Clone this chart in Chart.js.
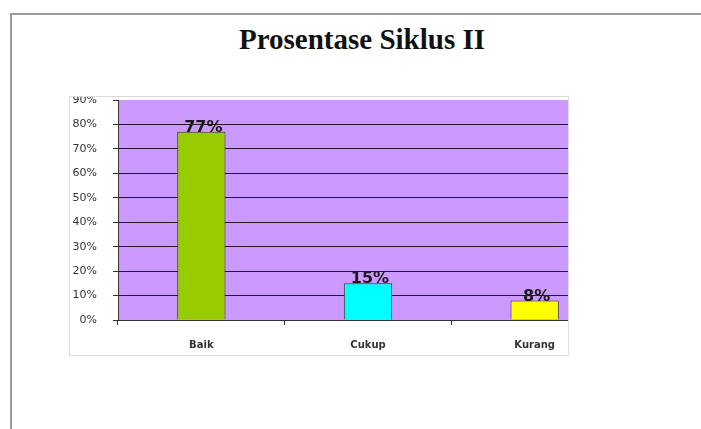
<!DOCTYPE html>
<html><head><meta charset="utf-8">
<script src="https://cdn.jsdelivr.net/npm/chart.js@4/dist/chart.umd.min.js"></script>
<style>
html,body{margin:0;padding:0;background:#fff;width:701px;height:429px;overflow:hidden;}
#frame{position:absolute;left:10px;top:13px;width:720px;height:440px;border-left:2px solid #9a9a9a;border-top:2px solid #9a9a9a;}
#title{position:absolute;left:0;width:724px;top:23px;text-align:center;font-family:"Liberation Serif",serif;font-weight:bold;font-size:29px;color:#111;}
#box{position:absolute;left:69px;top:96px;width:498px;height:258px;border:1px solid #dcdcdc;overflow:hidden;background:#fff;}
#c{position:absolute;left:0;top:0;}
</style></head>
<body>
<div id="frame"></div>
<div id="title">Prosentase Siklus II</div>
<div id="box"><canvas id="c" width="550" height="258"></canvas></div>
<script>
const categories = ["Baik", "Cukup", "Kurang"];
const values = [77, 15, 8];
const barColors = ["#99CC00", "#00FFFF", "#FFFF00"];
const yTicks = [0, 10, 20, 30, 40, 50, 60, 70, 80, 90];

const bgPlugin = {
  id: 'bg',
  beforeDraw(chart) {
    const a = chart.chartArea, ctx = chart.ctx;
    ctx.save(); ctx.fillStyle = '#CC99FF';
    ctx.fillRect(a.left, a.top, a.right - a.left, a.bottom - a.top);
    ctx.restore();
  }
};
const labelPlugin = {
  id: 'lbl',
  afterDatasetsDraw(chart) {
    const ctx = chart.ctx, meta = chart.getDatasetMeta(0);
    ctx.save();
    ctx.font = 'bold 16px "DejaVu Sans", sans-serif';
    ctx.fillStyle = '#1a1a1a';
    ctx.textAlign = 'center'; ctx.textBaseline = 'middle';
    meta.data.forEach((el, i) => {
      ctx.fillText(values[i] + '%', el.x + 2, el.y - 4);
    });
    ctx.restore();
  }
};

new Chart(document.getElementById('c'), {
  type: 'bar',
  data: {
    labels: categories,
    datasets: [{
      data: values,
      backgroundColor: barColors,
      borderColor: '#3a3a2a',
      borderWidth: 1,
      categoryPercentage: 1,
      barPercentage: 0.29
    }]
  },
  options: {
    responsive: false,
    animation: false,
    layout: { padding: { top: 3, right: 2, left: 0, bottom: 0 } },
    plugins: { legend: { display: false }, tooltip: { enabled: false } },
    scales: {
      x: {
        grid: { display: true, drawOnChartArea: false, offset: true, tickLength: 5, color: '#333' },
        border: { color: '#333', width: 1 },
        ticks: { padding: 14, color: '#333', font: { family: '"DejaVu Sans", sans-serif', size: 10, weight: 'bold' } },
        afterFit(s) { s.height = 35; s.paddingLeft = 0; s.paddingRight = 0; }
      },
      y: {
        min: 0, max: 90,
        afterBuildTicks(s) { s.ticks = yTicks.map(v => ({ value: v })); },
        grid: {
          tickLength: 5,
          color: ctx => (ctx.tick && (ctx.tick.value === 90 || ctx.tick.value === 0)) ? 'rgba(0,0,0,0)' : '#1e1a30',
          tickColor: '#333'
        },
        border: { color: '#333', width: 1 },
        ticks: { padding: 16, color: '#333', callback: v => v + '%', font: { family: '"DejaVu Sans", sans-serif', size: 11 } },
        afterFit(s) { s.width = 48; s.paddingTop = 0; s.paddingBottom = 0; }
      }
    }
  },
  plugins: [bgPlugin, labelPlugin]
});
</script>
</body></html>
